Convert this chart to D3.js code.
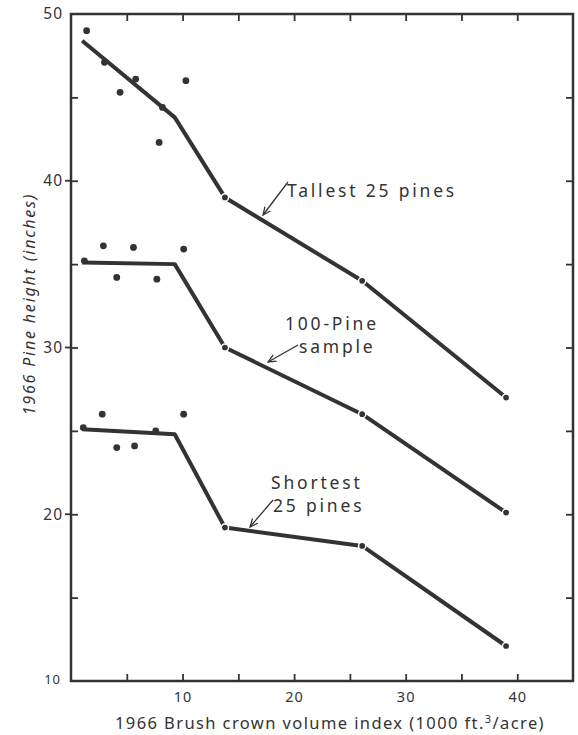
<!DOCTYPE html>
<html><head><meta charset="utf-8">
<script src="https://cdn.jsdelivr.net/npm/d3@7"></script>
<style>
body{margin:0;background:#fff;}
text{font-family:"Noto Sans","DejaVu Sans",sans-serif;fill:#333;}
</style></head>
<body>
<svg id="chart" width="578" height="735"></svg>
<script>
// Data
const seriesNames = ["Tallest 25 pines", "100-Pine sample", "Shortest 25 pines"];
const lineX = [1.0, 9.3, 13.8, 26.1, 39.0];
const tallestLine = [48.4, 43.8, 39.0, 34.0, 27.0];
const sampleLine = [35.1, 35.0, 30.0, 26.0, 20.1];
const shortestLine = [25.1, 24.8, 19.2, 18.1, 12.1];
const markerIdx = [2, 3, 4];
const tallestPtsX = [1.4, 3.0, 4.4, 5.8, 7.9, 8.2, 10.3];
const tallestPtsY = [49.0, 47.1, 45.3, 46.1, 42.3, 44.4, 46.0];
const samplePtsX = [1.2, 2.9, 4.1, 5.6, 7.7, 10.1];
const samplePtsY = [35.2, 36.1, 34.2, 36.0, 34.1, 35.9];
const shortestPtsX = [1.1, 2.8, 4.1, 5.7, 7.6, 10.1];
const shortestPtsY = [25.2, 26.0, 24.0, 24.1, 25.0, 26.0];
const xTickLabels = [10, 20, 30, 40];
const yTickLabels = [10, 20, 30, 40, 50];

const svg = d3.select("#chart");
const L = 71, R = 573, T = 14, B = 681;
const x = d3.scaleLinear().domain([0, 45]).range([L, R]);
const y = d3.scaleLinear().domain([10, 50]).range([B, T]);
const ink = "#333";

// frame
svg.append("rect").attr("x", L).attr("y", T).attr("width", R - L).attr("height", B - T)
  .attr("fill", "none").attr("stroke", ink).attr("stroke-width", 2.5);

const minorX = d3.range(5, 45, 5), minorY = d3.range(15, 50, 5);
// axes with inward ticks
const axB = d3.axisBottom(x).tickValues(minorX).tickSize(-7).tickFormat(d => xTickLabels.includes(d) ? d : "").tickPadding(11);
const axT = d3.axisTop(x).tickValues(minorX).tickSize(-7).tickFormat("");
const axL = d3.axisLeft(y).tickValues(minorY).tickSize(-7).tickFormat("");
const axR = d3.axisRight(y).tickValues(minorY).tickSize(-7).tickFormat("");
function style(g){ g.select(".domain").remove(); g.selectAll(".tick line").attr("stroke", ink).attr("stroke-width", 1.8);
  g.selectAll(".tick text").attr("font-size", 14.5).attr("letter-spacing", 1).style("font-family", '"Noto Sans",sans-serif').attr("fill", ink); }
svg.append("g").attr("transform", `translate(0,${B})`).call(axB).call(style);
svg.append("g").attr("transform", `translate(0,${T})`).call(axT).call(style);
svg.append("g").attr("transform", `translate(${L},0)`).call(axL).call(style);
svg.append("g").attr("transform", `translate(${R},0)`).call(axR).call(style);
// left ticks extend slightly outward too
svg.append("g").selectAll("line").data(yTickLabels.filter(v => v > 10 && v < 50)).join("line")
  .attr("x1", L - 6).attr("x2", L).attr("y1", d => y(d)).attr("y2", d => y(d)).attr("stroke", ink).attr("stroke-width", 1.8);
// y labels
svg.append("g").selectAll("text").data(yTickLabels).join("text")
  .attr("x", d => d === 10 ? 61 : 63).attr("y", d => y(d)).attr("dy", d => d === 10 ? "0.2em" : "0.35em")
  .attr("text-anchor", "end").attr("font-size", d => d === 10 ? 13 : 15.5).attr("letter-spacing", 1).text(d => d);

// axis titles
svg.append("text").attr("x", 330).attr("y", 729).attr("text-anchor", "middle").attr("font-size", 16.5)
  .attr("letter-spacing", 1.4)
  .html('1966 Brush crown volume index (1000 ft.<tspan dy="-6" font-size="11">3</tspan><tspan dy="6">/acre)</tspan>');
svg.append("text").attr("transform", "translate(35,304) rotate(-90)").attr("text-anchor", "middle")
  .attr("font-size", 16).attr("font-style", "italic").attr("letter-spacing", 1.8).text("1966 Pine height (inches)");

// lines
const line = d3.line().x(d => x(d[0])).y(d => y(d[1]));
const sets = [
  {ly: tallestLine, px: tallestPtsX, py: tallestPtsY},
  {ly: sampleLine, px: samplePtsX, py: samplePtsY},
  {ly: shortestLine, px: shortestPtsX, py: shortestPtsY}
];
sets.forEach(s => {
  const pts = lineX.map((v, i) => [v, s.ly[i]]);
  svg.append("path").attr("d", line(pts)).attr("fill", "none").attr("stroke", ink)
    .attr("stroke-width", 4).attr("stroke-linejoin", "round");
  svg.append("g").selectAll("circle").data(markerIdx).join("circle")
    .attr("cx", i => x(lineX[i])).attr("cy", i => y(s.ly[i])).attr("r", 3.6)
    .attr("fill", ink).attr("stroke", "#fff").attr("stroke-width", 1.5);
  svg.append("g").selectAll("circle").data(s.px).join("circle")
    .attr("cx", d => x(d)).attr("cy", (d, i) => y(s.py[i])).attr("r", 3.4).attr("fill", ink);
});

// annotations
const defs = svg.append("defs");
defs.append("marker").attr("id", "arr").attr("viewBox", "0 0 10 10").attr("refX", 9).attr("refY", 5)
  .attr("markerWidth", 9).attr("markerHeight", 9).attr("orient", "auto-start-reverse").attr("markerUnits", "userSpaceOnUse")
  .append("path").attr("d", "M0,1 L9,5 L0,9").attr("fill", "none").attr("stroke", ink).attr("stroke-width", 1.4);
function arrow(x1, y1, x2, y2){
  svg.append("line").attr("x1", x1).attr("y1", y1).attr("x2", x2).attr("y2", y2)
    .attr("stroke", ink).attr("stroke-width", 1.3).attr("marker-end", "url(#arr)");
}
function lab(tx, ty, lines, dxs){
  const t = svg.append("text").attr("x", tx).attr("y", ty).attr("font-size", 17.5).attr("letter-spacing", 2.8);
  lines.forEach((s, i) => t.append("tspan").attr("x", tx + (dxs ? dxs[i] : 0)).attr("dy", i ? 22.5 : 0).text(s));
}
lab(287, 197, [seriesNames[0]]);
arrow(288, 182, 263, 215);
lab(285, 330, ["100-Pine", "sample"], [0, 14]);
arrow(298, 345, 268, 362);
lab(271, 489, ["Shortest", "25 pines"], [0, 2]);
arrow(273, 500, 250, 527);
</script>
</body></html>
